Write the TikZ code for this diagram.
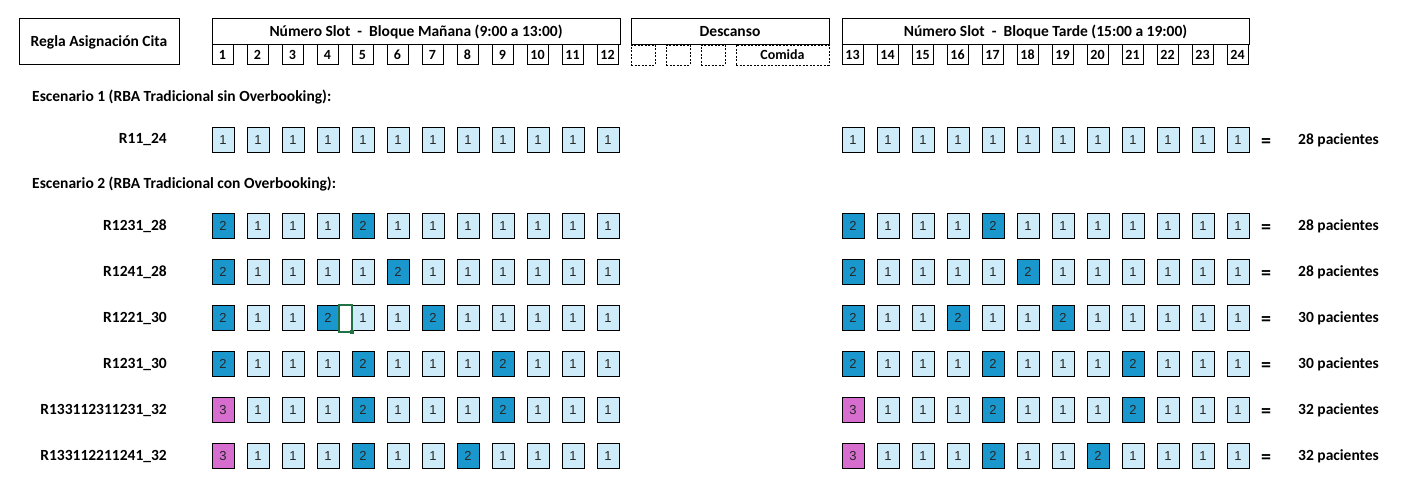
\documentclass[tikz,border=0pt]{standalone}
\usepackage{fontspec}
\setmainfont{Carlito}
\newfontfamily\celdafont{Liberation Sans}
\definecolor{col1}{HTML}{CDEBF9}
\definecolor{col2}{HTML}{1A98CE}
\definecolor{col3}{HTML}{D86DD0}
\definecolor{verdesel}{HTML}{217346}
\tikzset{
  caja/.style={draw, line width=1pt, inner sep=0pt},
  celda/.style={draw, line width=1pt, minimum width=22pt, minimum height=25pt, inner sep=0pt,
                font=\celdafont\fontsize{13}{13}\selectfont, text=black!85},
  numslot/.style={draw, line width=1pt, minimum width=21pt, minimum height=20pt, inner sep=0pt,
                  font=\bfseries\fontsize{14}{14}\selectfont},
  hueco/.style={draw, line width=0.8pt, dash pattern=on 2pt off 1.5pt, minimum height=20pt, inner sep=0pt},
  titulo/.style={font=\bfseries\fontsize{15.5}{15.5}\selectfont},
  etiqueta/.style={font=\bfseries\fontsize{15.5}{15.5}\selectfont, anchor=east, inner sep=0pt},
  igual/.style={font=\bfseries\fontsize{20}{20}\selectfont, inner sep=0pt, yshift=-3.5pt},
}
\begin{document}
\begin{tikzpicture}[x=1pt, y=-1pt]
    \useasboundingbox[fill=white] (0,0) rectangle (1404,489);
    %------------Encabezado----------
    \node[caja, titulo, minimum width=160pt, minimum height=46pt] (regla) at (99,42) {Regla Asignación Cita};
    \foreach \c in {0,1,2} {
        \node[hueco, minimum width=24pt] (d\c) at ({643+35*\c},55) {};
    }
    \node[hueco, minimum width=93pt, font=\bfseries\fontsize{14}{14}\selectfont] (comida) at (782.5,55) {Comida};
    \node[caja, titulo, minimum width=408pt, minimum height=26pt] (manana) at (416,32) {Número Slot\ \ -\ \ Bloque Mañana (9:00 a 13:00)};
    \node[caja, titulo, minimum width=198pt, minimum height=26pt] (descanso) at (730,32) {Descanso};
    \node[caja, titulo, minimum width=407pt, minimum height=26pt] (tarde) at (1045.5,32) {Número Slot\ \ -\ \ Bloque Tarde (15:00 a 19:00)};
    \foreach \i in {1,...,12} {
        \node[numslot] (s\i) at ({222.5+35*(\i-1)},55) {\i};
        \pgfmathtruncatemacro{\j}{\i+12}
        \node[numslot] (s\j) at ({852.5+35*(\i-1)},55) {\j};
    }
    %------------Escenarios----------
    \node[titulo, anchor=west, inner sep=0pt] (esc1) at (32,97) {Escenario 1 (RBA Tradicional sin Overbooking):};
    \node[titulo, anchor=west, inner sep=0pt] (esc2) at (32,184) {Escenario 2 (RBA Tradicional con Overbooking):};
    %------------Filas---------------
    \foreach \f/\y/\nombre/\vals/\total in {
        1/140/R11\_24/{1,1,1,1,1,1,1,1,1,1,1,1}/28,
        2/226/R1231\_28/{2,1,1,1,2,1,1,1,1,1,1,1}/28,
        3/272/R1241\_28/{2,1,1,1,1,2,1,1,1,1,1,1}/28,
        4/318/R1221\_30/{2,1,1,2,1,1,2,1,1,1,1,1}/30,
        5/364/R1231\_30/{2,1,1,1,2,1,1,1,2,1,1,1}/30,
        6/410/R133112311231\_32/{3,1,1,1,2,1,1,1,2,1,1,1}/32,
        7/456/R133112211241\_32/{3,1,1,1,2,1,1,2,1,1,1,1}/32} {
        \node[etiqueta] (n\f) at (167,\y) {\nombre};
        \foreach \v [count=\i] in \vals {
            \node[celda, fill=col\v] (m\f-\i) at ({223+35*(\i-1)},\y) {\v};
            \node[celda, fill=col\v] (t\f-\i) at ({853+35*(\i-1)},\y) {\v};
        }
        \node[igual] (ig\f) at (1266,\y) {=};
        \node[titulo, anchor=west, inner sep=0pt] (tot\f) at (1298,\y) {\total\ pacientes};
    }
    %------------Seleccion-----------
    \draw[verdesel, line width=1.6pt] (339,305) rectangle (352,332);
    \fill[verdesel] (349.5,329.5) rectangle (354,334);
\end{tikzpicture}
\end{document}
